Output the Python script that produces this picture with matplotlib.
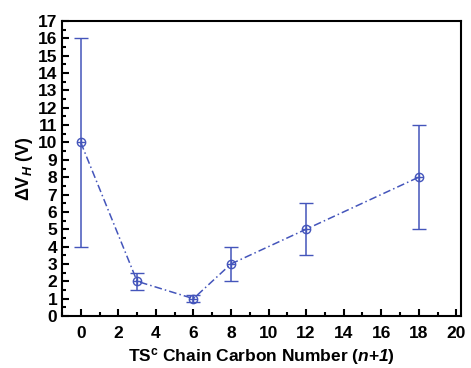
import matplotlib
matplotlib.use('Agg')
import matplotlib.pyplot as plt
from matplotlib.ticker import MultipleLocator

plt.rcParams['font.family'] = ['Liberation Sans', 'DejaVu Sans']
plt.rcParams['font.weight'] = 'bold'
plt.rcParams['mathtext.fontset'] = 'custom'
plt.rcParams['mathtext.rm'] = 'Liberation Sans:bold'
plt.rcParams['mathtext.it'] = 'Liberation Sans:bold:italic'
plt.rcParams['mathtext.bf'] = 'Liberation Sans:bold:italic'  # used for (n+1)

# data
carbon = [0, 3, 6, 8, 12, 18]
dvh = [10, 2, 1, 3, 5, 8]
err = [6, 0.5, 0.2, 1, 1.5, 3]

col = '#4455bb'

fig = plt.figure(figsize=(4.71, 3.68), dpi=100)
ax = fig.add_axes([62/471, 1-316/368, (461-62)/471, (316-21)/368])

ax.errorbar(carbon, dvh, yerr=err, color=col, lw=1.1, ls=(0, (5, 2, 1, 2)),
            capsize=5, capthick=1.1, elinewidth=1.1,
            marker='o', ms=6, mfc='none', mec=col, mew=1.0)
ax.plot(carbon, dvh, ls='none', marker='+', ms=6, color=col, mew=1.0)

ax.set_xlim(-1, 20.25)
ax.set_ylim(0, 17)
ax.xaxis.set_major_locator(MultipleLocator(2))
ax.xaxis.set_minor_locator(MultipleLocator(1))
ax.yaxis.set_major_locator(MultipleLocator(1))
ax.yaxis.set_minor_locator(MultipleLocator(0.5))
ax.tick_params(which='both', direction='in', top=False, right=False,
               labelsize=12.5, width=1.5)
ax.tick_params(which='major', length=5)
ax.tick_params(which='minor', length=3)
ax.tick_params(axis='x', pad=7)
for s in ax.spines.values():
    s.set_linewidth(1.5)

ax.set_xlabel(r'TS$^{\mathrm{c}}$ Chain Carbon Number ($\mathbf{n}$+$\mathbf{1}$)',
              fontsize=12.5, fontweight='bold', labelpad=4)
ax.set_ylabel(r'$\Delta$V$_{H}$ (V)', fontsize=13, fontweight='bold', labelpad=2)

fig.savefig('out.png', dpi=100)
